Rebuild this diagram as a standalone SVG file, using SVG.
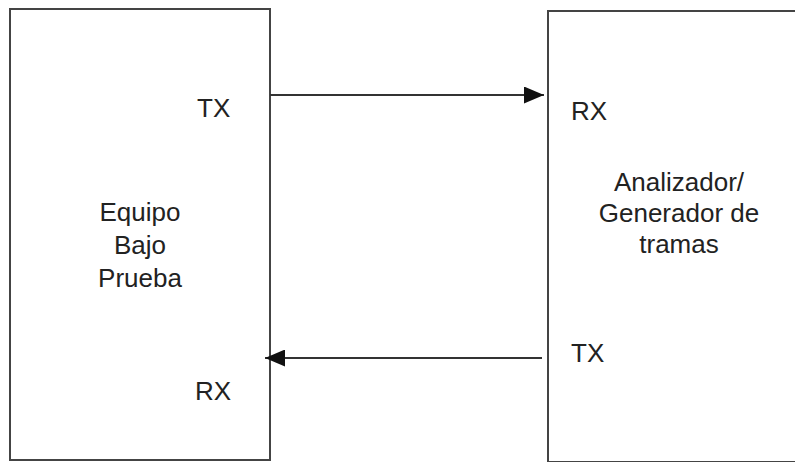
<svg xmlns="http://www.w3.org/2000/svg" width="795" height="462" viewBox="0 0 795 462">
<style>
.box{fill:#fff;stroke:#444;stroke-width:2}
.t{font-family:"Liberation Sans",Arial,sans-serif;font-size:26px;fill:#222}
.c{text-anchor:middle}
.conn{stroke:#333;stroke-width:2;fill:none}
</style>
<defs>
<marker id="ah2" markerWidth="20" markerHeight="17" refX="20" refY="8.5" orient="auto" markerUnits="userSpaceOnUse" viewBox="0 0 20 17">
<path d="M0,0 L20,8.5 L0,17 z" fill="#111"/>
</marker>
</defs>
<rect width="795" height="462" fill="#fff"/>
<g id="equipo">
<rect class="box" x="10" y="9" width="260" height="451"/>
<text class="t c" x="140" y="221">Equipo</text>
<text class="t c" x="140" y="254">Bajo</text>
<text class="t c" x="140" y="287">Prueba</text>
<text class="t" x="197" y="117">TX</text>
<text class="t" x="195" y="400">RX</text>
</g>
<g id="analizador">
<rect class="box" x="548" y="11" width="260" height="451"/>
<text class="t c" x="679" y="191">Analizador/</text>
<text class="t c" x="679" y="222">Generador de</text>
<text class="t c" x="679" y="253">tramas</text>
<text class="t" x="571" y="120">RX</text>
<text class="t" x="571" y="362">TX</text>
</g>
<g id="connectors">
<line class="conn" x1="270" y1="95" x2="544" y2="95" marker-end="url(#ah2)"/>
<line class="conn" x1="542" y1="358" x2="265" y2="358" marker-end="url(#ah2)"/>
</g>
</svg>
